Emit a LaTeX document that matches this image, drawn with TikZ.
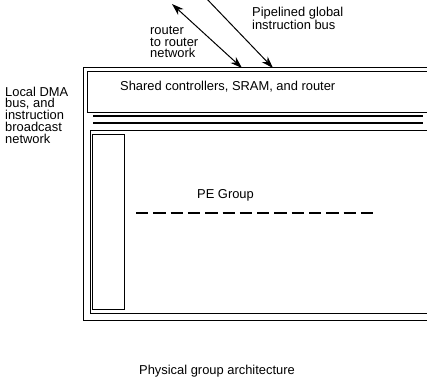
\documentclass[tikz,border=0pt]{standalone}
\usepackage{fontspec}
\setmainfont{Liberation Sans}
\usetikzlibrary{arrows.meta}
\tikzset{
  label text/.style={anchor=west,inner sep=0pt,align=left,font=\fontsize{12.9}{11.8}\selectfont},
  box line/.style={line width=0.9pt},
  bus line/.style={line width=2pt},
  net arrow/.style={line width=1pt,-{Stealth[length=12pt,width=8pt]}}
}
\begin{document}
\begin{tikzpicture}[x=1pt,y=-1pt]
  \useasboundingbox (0,0) rectangle (427,381);
  \clip (0,0) rectangle (427,381);
  % boxes
  \draw[box line] (83,67) rectangle (440,320);
  \draw[box line] (87,71) rectangle (440,112);
  \draw[box line] (90,130) rectangle (440,313);
  \draw[box line] (92,134) rectangle (124,309);
  \draw[bus line] (93,116)--(423,116);
  \draw[bus line] (93,123)--(423,123);
  \draw[bus line,dash pattern=on 12.3pt off 5pt] (136,213)--(374,213);
  % arrows
  \coordinate (rtop) at (172,4);
  \coordinate (rbot) at (242,68);
  \coordinate (gtop) at (205,-3);
  \coordinate (gbot) at (273,68);
  \draw[net arrow,{Stealth[length=12pt,width=8pt]}-{Stealth[length=12pt,width=8pt]}] (rtop)--(rbot);
  \draw[net arrow] (gtop)--(gbot);
  % labels
  \node[label text] (router) at (150,42) {router\\to router\\network};
  \node[label text] (global) at (252,18) {Pipelined global\\instruction bus};
  \node[label text] (shared) at (120,87) {Shared controllers, SRAM, and router};
  \node[label text] (local) at (5,115) {Local DMA\\bus, and\\instruction\\broadcast\\network};
  \node[label text] (pe) at (197,195) {PE Group};
  \node[label text] (caption) at (139,371) {Physical group architecture};
\end{tikzpicture}
\end{document}
